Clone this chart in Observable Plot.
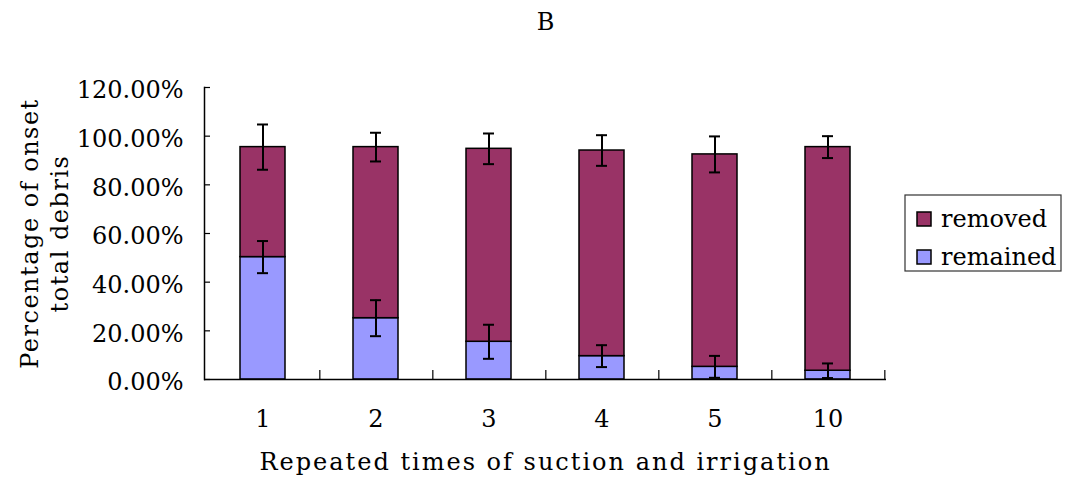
<!DOCTYPE html>
<html>
<head>
<meta charset="utf-8">
<script src="https://cdn.jsdelivr.net/npm/d3@7"></script>
<script src="https://cdn.jsdelivr.net/npm/@observablehq/plot@0.6"></script>
<style>
  html, body { margin: 0; padding: 0; background: white; }
  .spaced text { letter-spacing: 2px; }
  .spaced-y text { letter-spacing: 1.5px; }
</style>
</head>
<body>
<div id="chart"></div>
<script>
// ---- data ----
const categories = ["1", "2", "3", "4", "5", "10"];
const remained = [50.3, 25.2, 15.5, 9.6, 5.2, 3.6];
const removed = [45.2, 70.3, 79.3, 84.5, 87.3, 91.9];
const remainedErr = [6.6, 7.4, 7.0, 4.5, 4.5, 3.0];
const removedErr = [9.3, 5.9, 6.3, 6.3, 7.4, 4.5];
const yTicks = [0, 20, 40, 60, 80, 100, 120];
const seriesNames = ["removed", "remained"];
const seriesColors = ["#993366", "#9999FF"];
const titleText = "B";
const xTitle = "Repeated times of suction and irrigation";
const yTitle = "Percentage of onset\ntotal debris";

// ---- layout ----
const W = 1067, H = 481;
const mL = 204, mR = 181, mT = 87, mB = 102;
const frameW = W - mL - mR, frameH = H - mT - mB;
const step = frameW / categories.length;
const font = "DejaVu Serif";
const fs = 24;

const rows = [];
categories.forEach((c, i) => rows.push({cat: c, series: "remained", value: remained[i]}));
categories.forEach((c, i) => rows.push({cat: c, series: "removed", value: removed[i]}));

const errRows = categories.flatMap((c, i) => [
  {cat: c, lo: remained[i] - remainedErr[i], hi: remained[i] + remainedErr[i]},
  {cat: c, lo: remained[i] + removed[i] - removedErr[i], hi: remained[i] + removed[i] + removedErr[i]}
]);

const chart = Plot.plot({
  width: W, height: H,
  marginLeft: mL, marginRight: mR, marginTop: mT, marginBottom: mB,
  style: {fontFamily: font, fontSize: fs + "px", color: "black", background: "white", overflow: "visible"},
  x: {domain: categories, paddingInner: 0.6, paddingOuter: 0.3, axis: null},
  y: {domain: [0, 120], axis: null, label: null},
  color: {domain: seriesNames, range: seriesColors},
  marks: [
    Plot.barY(rows, {x: "cat", y: "value", fill: "series", stroke: "black", strokeWidth: 1.5}),
    Plot.ruleX(errRows, {x: "cat", y1: "lo", y2: "hi", stroke: "black", strokeWidth: 2}),
    Plot.tickY(errRows, {x: "cat", y: "hi", stroke: "black", strokeWidth: 2, insetLeft: 17, insetRight: 17}),
    Plot.tickY(errRows, {x: "cat", y: "lo", stroke: "black", strokeWidth: 2, insetLeft: 17, insetRight: 17}),
    // axes lines
    Plot.ruleY([0], {stroke: "black", strokeWidth: 1.5}),
    Plot.frame({anchor: "left", stroke: "black", strokeWidth: 1.5}),
    // inward y ticks
    Plot.tickY(yTicks, {y: d => d, stroke: "black", strokeWidth: 1.2, insetRight: frameW - 6}),
    // inward x ticks at category boundaries
    Plot.tickX(categories, {x: d => d, dx: step / 2, stroke: "black", strokeWidth: 1.2, insetTop: frameH - 9}),
    // y tick labels
    Plot.text(yTicks, {y: d => d, text: d => d.toFixed(2) + "%", frameAnchor: "left", textAnchor: "end", dx: -21, dy: 3, fill: "black"}),
    // x tick labels
    Plot.text(categories, {x: d => d, text: d => d, frameAnchor: "bottom", dy: 40, lineAnchor: "middle", fill: "black"}),
    // titles
    Plot.text([titleText], {frameAnchor: "top", dy: -65, lineAnchor: "middle", fill: "black"}),
    Plot.text([xTitle], {frameAnchor: "bottom", dy: 83, lineAnchor: "middle", fill: "black", className: "spaced"}),
    Plot.text([yTitle], {frameAnchor: "left", dx: -161, rotate: -90, textAnchor: "middle", lineAnchor: "middle", lineHeight: 1.25, fill: "black", className: "spaced-y"})
  ]
});

// ---- legend ----
const svg = d3.select(chart);
const lg = svg.append("g").attr("font-family", font).attr("font-size", fs).attr("text-anchor", "start");
lg.append("rect").attr("x", 905).attr("y", 195).attr("width", 156).attr("height", 76)
  .attr("fill", "white").attr("stroke", "#333").attr("stroke-width", 1.2);
seriesNames.forEach((s, i) => {
  const cy = 219 + i * 38;
  lg.append("rect").attr("x", 917).attr("y", cy - 7).attr("width", 14).attr("height", 14)
    .attr("fill", seriesColors[i]).attr("stroke", "black").attr("stroke-width", 1.5);
  lg.append("text").attr("x", 941).attr("y", cy).attr("dy", "0.35em").attr("fill", "black").text(s);
});

document.getElementById("chart").appendChild(chart);
</script>
</body>
</html>
